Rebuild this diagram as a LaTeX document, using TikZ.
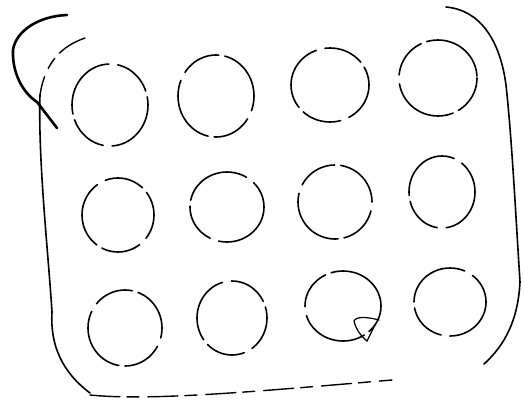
\documentclass[tikz,border=0pt]{standalone}
\usepackage{tikz}
\tikzset{
	well/.style   ={line width=1.6pt, dash pattern=on 70pt off 9pt on 40pt off 6pt, line cap=round},
	rim/.style    ={line width=1.6pt, line cap=round, line join=round},
	rimgap/.style ={line width=1.4pt, line cap=round, dash pattern=on 30pt off 7pt on 12pt off 9pt},
	flap/.style   ={line width=2.6pt, line cap=round},
}
\begin{document}
\begin{tikzpicture}[x=1pt, y=-1pt]
	\useasboundingbox (0,0) rectangle (524,402);
	% tray outline
	\draw[rimgap] (85,38) .. controls (62,46) and (45,62) .. (40,95);
	\draw[rim] (40,95) .. controls (38,160) and (48,250) .. (52,312)
		.. controls (50,345) and (62,372) .. (90,393);
	\draw[rimgap] (90,395) .. controls (150,401) and (250,392) .. (392,380);
	\draw[rim] (446,7) .. controls (480,10) and (500,40) .. (506,85)
		.. controls (512,140) and (516,220) .. (520,282)
		.. controls (518,320) and (505,345) .. (484,364);
	% loose stroke top left
	\draw[flap] (67,15) .. controls (40,16) and (16,30) .. (13,50)
		.. controls (12,72) and (22,92) .. (37,102) -- (57,128);
	% wells, row by row
	\foreach \cx/\cy/\rx/\ry/\ph in {110/105/38/41/10, 216/96/38/41/55, 330/85/39/37/30, 438/78/39/38/80,
		118/215/36/37/45, 227/207/37/35/5, 335/202/37/37/70, 442/192/33/36/20,
		125/328/37/38/60, 232/318/35/37/35, 343/306/38/35/90, 450/302/36/34/15} {
		\draw[well, dash phase=\ph pt] (\cx,\cy) ellipse [x radius=\rx, y radius=\ry];
	}
	% scribble in lower well
	\draw[line width=1.2pt, line cap=round] (379,320) .. controls (368,317) and (356,316) .. (354,321)
		.. controls (356,330) and (362,337) .. (367,341) -- (375,325);
\end{tikzpicture}
\end{document}
